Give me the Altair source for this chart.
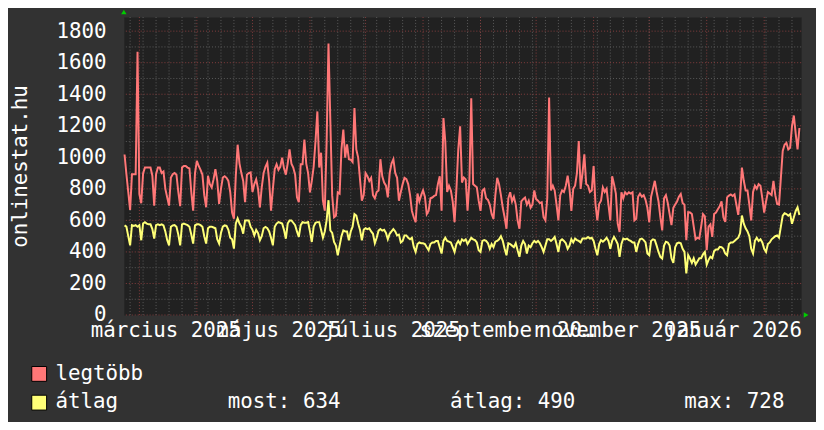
import altair as alt
import pandas as pd

# ---- data (daily values, 2025-02-21 .. 2026-02-19) ----
legtobb = [
    1018, 893, 780, 667, 893, 893, 893, 1669, 767, 709,
    897, 935, 935, 935, 935, 883, 694, 893, 935, 935,
    900, 910, 800, 746, 694, 872, 893, 900, 890, 780,
    690, 935, 945, 945, 935, 930, 780, 662, 900, 977,
    945, 920, 890, 760, 683, 883, 830, 809, 860, 925,
    850, 704, 800, 872, 880, 870, 850, 780, 650, 610,
    880, 1080, 960, 900, 850, 715, 890, 900, 904, 780,
    830, 860, 800, 683, 810, 900, 940, 966, 850, 662,
    800, 925, 956, 920, 940, 998, 930, 890, 960, 1050,
    960, 935, 890, 746, 715, 956, 956, 1113, 960, 900,
    778, 850, 940, 1103, 1291, 935, 1029, 725, 662, 1100,
    1721, 1228, 757, 620, 630, 778, 770, 1050, 1176, 998,
    1082, 988, 985, 970, 1312, 1050, 998, 860, 725, 760,
    900, 880, 850, 870, 760, 740, 780, 790, 988, 880,
    840, 820, 746, 900, 960, 988, 900, 870, 725, 780,
    830, 870, 862, 830, 760, 660, 620, 589, 770, 720,
    760, 790, 750, 640, 660, 740, 745, 755, 760, 830,
    880, 662, 1249, 1100, 780, 820, 790, 720, 589, 800,
    1050, 1197, 840, 872, 860, 662, 850, 1375, 830, 820,
    810, 725, 660, 788, 799, 740, 730, 700, 641, 610,
    760, 870, 830, 760, 680, 620, 547, 740, 778, 720,
    750, 700, 600, 547, 720, 735, 745, 700, 725, 680,
    700, 790, 735, 725, 710, 715, 620, 600, 740, 1379,
    790, 820, 790, 700, 600, 760, 790, 780, 820, 883,
    800, 660, 800, 820, 900, 1103, 800, 900, 1019, 830,
    820, 780, 790, 945, 704, 600, 704, 725, 809, 780,
    800, 700, 600, 880, 830, 770, 579, 526, 778, 740,
    778, 765, 778, 770, 778, 600, 610, 750, 770, 750,
    760, 730, 680, 589, 750, 800, 851, 780, 720, 620,
    537, 740, 760, 710, 640, 570, 680, 700, 720, 750,
    767, 710, 700, 474, 652, 650, 640, 560, 480, 490,
    485, 560, 640, 625, 411, 560, 575, 495, 640, 650,
    670, 690, 720, 620, 590, 746, 757, 765, 755, 765,
    700, 635, 750, 935, 851, 790, 790, 700, 600, 780,
    820, 800, 830, 820, 740, 650, 720, 780, 770, 760,
    851, 760, 704, 700, 870, 1040, 1080, 1092, 1050, 1061,
    1197, 1265, 1150, 1050, 1186,
]
atlag = [
    568, 560, 500, 442, 570, 565, 570, 560, 570, 474,
    580, 589, 580, 575, 575, 545, 484, 570, 575, 570,
    575, 568, 530, 475, 442, 560, 568, 570, 560, 510,
    442, 575, 580, 575, 570, 560, 510, 453, 568, 575,
    575, 570, 560, 500, 453, 550, 560, 560, 555, 550,
    480, 453, 520, 560, 568, 565, 540, 490, 480, 421,
    579, 612, 580, 560, 516, 600, 600, 600, 560, 540,
    505, 540, 520, 474, 500, 550, 558, 550, 530, 490,
    442, 560, 580, 589, 585, 580, 540, 484, 580, 600,
    600, 585, 570, 530, 495, 570, 589, 585, 585, 589,
    530, 463, 560, 585, 589, 589, 540, 490, 530, 600,
    728, 536, 520, 463, 440, 379, 440, 500, 536, 530,
    530, 474, 530, 560, 640, 630, 580, 540, 474, 540,
    550, 545, 550, 530, 515, 455, 490, 535, 545, 535,
    540, 520, 480, 515, 530, 545, 530, 505, 510, 460,
    470, 505, 505, 490, 480, 490, 432, 400, 450, 460,
    455, 455, 450, 430, 411, 450, 460, 460, 470, 470,
    430, 390, 470, 490, 470, 465, 460, 430, 400, 450,
    470, 450, 480, 470, 480, 450, 470, 490, 480, 475,
    460, 411, 400, 470, 475, 470, 455, 420, 450, 430,
    465, 470, 480, 500, 470, 420, 379, 455, 450, 440,
    430, 455, 410, 369, 440, 470, 450, 390, 440, 430,
    455, 470, 460, 470, 455, 430, 400, 440, 480, 480,
    470, 480, 495, 450, 400, 470, 480, 470, 455, 420,
    440, 480, 460, 485, 475, 470, 460, 485, 485, 485,
    495, 485, 490, 470, 420, 379, 450, 475, 465, 475,
    490, 470, 420, 470, 495, 475, 450, 369, 450, 485,
    480, 485, 475, 470, 460, 460, 400, 450, 480, 485,
    475, 460, 390, 379, 470, 480, 475, 440, 400, 369,
    358, 440, 465, 460, 440, 360, 330, 430, 455, 460,
    455, 420, 400, 264, 380, 358, 330, 360, 320, 340,
    360, 360, 385, 400, 320, 350, 370, 360, 405, 415,
    415, 432, 430, 420, 390, 379, 450, 460, 460, 470,
    480, 490, 520, 631, 579, 550, 530, 500, 420, 390,
    470, 490, 470, 480, 460, 420, 400, 450, 460, 480,
    490, 500, 505, 490, 560, 630, 645, 640, 630, 640,
    579, 620, 660, 683, 634,
]
series_names = ["legtöbb", "átlag"]
series_colors = ["#ff7777", "#ffff77"]
month_names = ["január", "február", "március", "április", "május", "június",
               "július", "augusztus", "szeptember", "október", "november", "december"]
label_months = [(2025, 3), (2025, 5), (2025, 7), (2025, 9), (2025, 11), (2026, 1)]
y_major = [0, 200, 400, 600, 800, 1000, 1200, 1400, 1600, 1800]
y_minor = [100, 300, 500, 700, 900, 1100, 1300, 1500, 1700]
y_title = "onlinestat.hu"
stats_text = ["most: 634", "átlag: 490", "max: 728"]

# ---- layout / style ----
FONT = "DejaVu Sans Mono"
FS = 21
W, H = 684, 301
BG = "#323232"
PLOT_BG = "#212121"
MINOR = "#5c5c5c"
MAJOR = "#863e3e"
TXT = "#ffffff"

n = min(len(legtobb), len(atlag))
dates = list(pd.date_range("2025-02-21", periods=n, freq="D").strftime("%Y-%m-%d"))
df_max = pd.DataFrame({"date": dates, "value": legtobb[:n]})
df_avg = pd.DataFrame({"date": dates, "value": atlag[:n]})
month_starts = list(pd.date_range("2025-03-01", "2026-02-01", freq="MS").strftime("%Y-%m-%d"))
mondays = list(pd.date_range("2025-02-24", "2026-02-20", freq="7D").strftime("%Y-%m-%d"))

xscale = alt.Scale(type="utc", domain=[
    alt.DateTime(year=2025, month=2, date=20, hours=15, utc=True),
    alt.DateTime(year=2026, month=2, date=20, hours=22, minutes=30, utc=True)])
yscale = alt.Scale(domain=[0, 1890], nice=False, zero=False)

names_js = "[" + ",".join("'%s'" % m for m in month_names) + "]"
xaxis = alt.Axis(
    values=[alt.DateTime(year=yy, month=mm, date=15, utc=True) for yy, mm in label_months],
    labelExpr=names_js + "[utcmonth(datum.value)] + ' ' + utcyear(datum.value)",
    domain=False, ticks=False, tickSize=0, grid=False,
    labelFont=FONT, labelFontSize=FS, labelColor=TXT, labelBaseline="alphabetic",
    labelPadding=22, labelOverlap=False, labelFlush=False)
yaxis = alt.Axis(
    values=y_major, format="d", domain=False, ticks=False, tickSize=0, grid=False,
    labelFont=FONT, labelFontSize=FS, labelColor=TXT, labelPadding=18,
    labelAlign="right", labelBaseline="middle", labelFlush=False,
    titleFont=FONT, titleFontSize=FS, titleColor=TXT, titleFontWeight="normal",
    titleAngle=270, titleX=-98, titleY=H / 2, titleAlign="center",
    titleBaseline="alphabetic")

X = alt.X("date:T", scale=xscale, axis=xaxis, title=None)
Y = alt.Y("value:Q", scale=yscale, axis=yaxis, title=y_title)

vminor = alt.Chart(pd.DataFrame({"date": mondays})).mark_rule(
    color=MINOR, strokeWidth=1, strokeDash=[1, 2]).encode(x=X)
hminor = alt.Chart(pd.DataFrame({"value": y_minor})).mark_rule(
    color=MINOR, strokeWidth=1, strokeDash=[1, 2]).encode(y=Y)
vmajor = alt.Chart(pd.DataFrame({"date": month_starts})).mark_rule(
    color=MAJOR, strokeWidth=1, strokeDash=[1, 2]).encode(x=X)
hmajor = alt.Chart(pd.DataFrame({"value": y_major})).mark_rule(
    color=MAJOR, strokeWidth=1, strokeDash=[1, 2]).encode(y=Y)

line_max = alt.Chart(df_max).mark_line(color=series_colors[0], strokeWidth=2,
                                       interpolate="linear").encode(x=X, y=Y)
line_avg = alt.Chart(df_avg).mark_line(color=series_colors[1], strokeWidth=2,
                                       interpolate="linear").encode(x=X, y=Y)

one = pd.DataFrame({"k": [0]})


def txt(label, px, py):
    return alt.Chart(one).mark_text(font=FONT, fontSize=FS, color=TXT, align="left",
                                    baseline="alphabetic").encode(
        x=alt.value(px), y=alt.value(py), text=alt.value(label))


def swatch(color, py):
    return alt.Chart(one).mark_rect(color=color, stroke="#000000", strokeWidth=1).encode(
        x=alt.value(-93), x2=alt.value(-78), y=alt.value(py), y2=alt.value(py + 15))


arrow_up = alt.Chart(one).mark_point(shape="triangle-up", filled=True, color="#00cc00",
                                     size=30, opacity=1).encode(
    x=alt.value(0), y=alt.value(-5))
arrow_right = alt.Chart(one).mark_point(shape="triangle-right", filled=True, color="#00cc00",
                                        size=30, opacity=1).encode(
    x=alt.value(689), y=alt.value(H))

row1, row2 = 366.5, 395
chart = alt.layer(
    vminor, hminor, vmajor, hmajor, line_max, line_avg,
    swatch(series_colors[0], 353), swatch(series_colors[1], 382),
    txt(series_names[0], -69, row1), txt(series_names[1], -69, row2),
    txt(stats_text[0], 105, row2), txt(stats_text[1], 329.5, row2), txt(stats_text[2], 566, row2),
    arrow_up, arrow_right,
).properties(
    width=W, height=H,
    autosize=alt.AutoSizeParams(type="none"),
    padding={"left": 117, "top": 7, "right": 15, "bottom": 106},
    background=BG,
).configure_view(fill=PLOT_BG, stroke="transparent")

chart.save("out.html", embed_options={"renderer": "svg", "actions": False})
